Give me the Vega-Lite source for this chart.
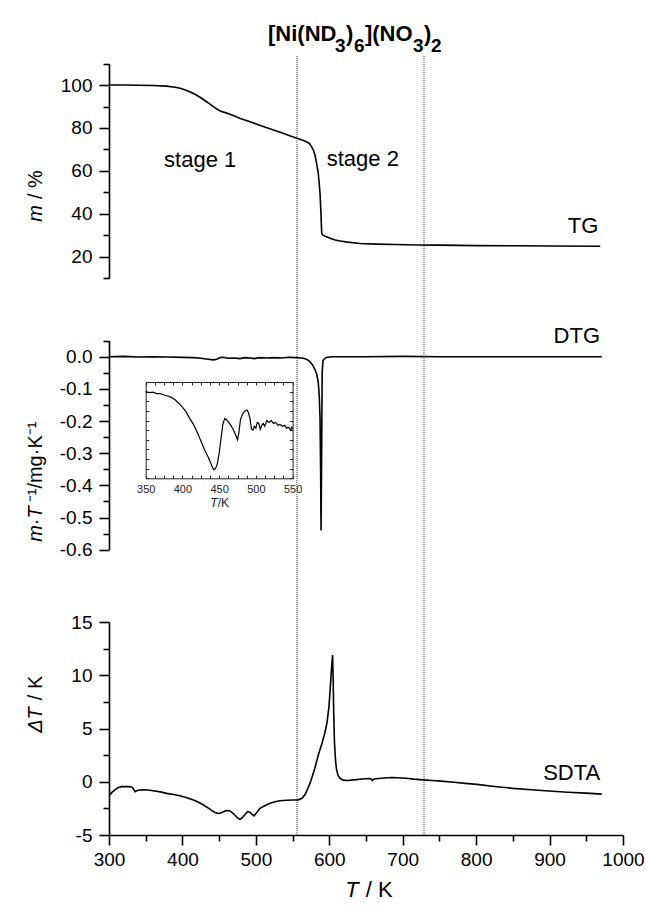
{
  "$schema": "https://vega.github.io/schema/vega-lite/v6.json",
  "width": 514,
  "height": 779,
  "autosize": "none",
  "padding": {"left": 109, "top": 56, "right": 23, "bottom": 74},
  "background": "white",
  "config": {
    "view": {"stroke": null},
    "axis": {
      "labelFont": "Liberation Sans",
      "labelFontSize": 19,
      "labelColor": "black",
      "domainColor": "black",
      "tickColor": "black",
      "domainWidth": 1.6,
      "tickWidth": 1.6,
      "grid": false,
      "labelFlush": false,
      "labelOverlap": false,
      "labelBound": false
    },
    "text": {"font": "Liberation Sans", "color": "black"}
  },
  "datasets": {
    "tg": [
      {"T": 300, "v": 100}, {"T": 320, "v": 100}, {"T": 340, "v": 99.9}, {"T": 360, "v": 99.8}, {"T": 378, "v": 99.5},
      {"T": 390, "v": 99.0}, {"T": 397, "v": 98.5}, {"T": 405, "v": 97.6}, {"T": 410, "v": 96.9}, {"T": 417, "v": 95.7},
      {"T": 424, "v": 94.3}, {"T": 431, "v": 92.7}, {"T": 437.5, "v": 91.1}, {"T": 443, "v": 89.7}, {"T": 449, "v": 88.4},
      {"T": 455, "v": 87.5}, {"T": 462, "v": 86.8}, {"T": 470, "v": 85.7}, {"T": 478, "v": 84.5}, {"T": 487, "v": 83.5},
      {"T": 496, "v": 82.4}, {"T": 505, "v": 81.3}, {"T": 515, "v": 80.1}, {"T": 526, "v": 78.8}, {"T": 537, "v": 77.5},
      {"T": 547, "v": 76.3}, {"T": 556, "v": 75.2}, {"T": 563, "v": 74.4}, {"T": 569, "v": 73.6}, {"T": 573, "v": 72.7},
      {"T": 576, "v": 71.2}, {"T": 578.5, "v": 69.5}, {"T": 580.5, "v": 67.4}, {"T": 582.5, "v": 64}, {"T": 584, "v": 61},
      {"T": 585, "v": 58.9}, {"T": 586.3, "v": 54}, {"T": 587.4, "v": 49.5}, {"T": 588, "v": 45}, {"T": 588.7, "v": 40.2},
      {"T": 589.2, "v": 35}, {"T": 589.7, "v": 30.9}, {"T": 591, "v": 30.2}, {"T": 594, "v": 29.6}, {"T": 597, "v": 29.2},
      {"T": 602, "v": 28.5}, {"T": 608, "v": 27.8}, {"T": 615, "v": 27.3}, {"T": 625, "v": 26.8}, {"T": 642, "v": 26.2},
      {"T": 665, "v": 25.9}, {"T": 690, "v": 25.7}, {"T": 720, "v": 25.5}, {"T": 750, "v": 25.4}, {"T": 800, "v": 25.2},
      {"T": 850, "v": 25.1}, {"T": 900, "v": 25.0}, {"T": 969, "v": 24.9}
    ],
    "dtg": [
      {"T": 300, "v": 0}, {"T": 320, "v": 0.001}, {"T": 340, "v": -0.001}, {"T": 360, "v": 0}, {"T": 380, "v": -0.001},
      {"T": 400, "v": -0.002}, {"T": 415, "v": -0.003}, {"T": 425, "v": -0.005}, {"T": 435, "v": -0.008}, {"T": 442, "v": -0.01},
      {"T": 447, "v": -0.008}, {"T": 451, "v": -0.003}, {"T": 456, "v": -0.002}, {"T": 462, "v": -0.005}, {"T": 470, "v": -0.004},
      {"T": 478, "v": -0.006}, {"T": 485, "v": -0.003}, {"T": 492, "v": -0.004}, {"T": 498, "v": -0.006}, {"T": 505, "v": -0.003},
      {"T": 515, "v": -0.004}, {"T": 525, "v": -0.003}, {"T": 535, "v": -0.004}, {"T": 545, "v": -0.002}, {"T": 556, "v": -0.003},
      {"T": 563, "v": -0.004}, {"T": 569, "v": -0.008}, {"T": 573, "v": -0.014}, {"T": 577, "v": -0.025}, {"T": 580.5, "v": -0.04},
      {"T": 583, "v": -0.055}, {"T": 585, "v": -0.08}, {"T": 586.3, "v": -0.12}, {"T": 587.4, "v": -0.19}, {"T": 588.2, "v": -0.35},
      {"T": 588.8, "v": -0.54}, {"T": 589.6, "v": -0.3}, {"T": 590.3, "v": -0.05}, {"T": 591.5, "v": -0.012}, {"T": 594, "v": -0.005},
      {"T": 597, "v": -0.002}, {"T": 605, "v": 0}, {"T": 650, "v": 0}, {"T": 700, "v": 0.001}, {"T": 750, "v": 0},
      {"T": 800, "v": 0}, {"T": 850, "v": 0}, {"T": 900, "v": 0}, {"T": 971, "v": 0}
    ],
    "sdta": [
      {"T": 300, "v": -1.34}, {"T": 304, "v": -1.0}, {"T": 308, "v": -0.77}, {"T": 312, "v": -0.55}, {"T": 317, "v": -0.46},
      {"T": 323, "v": -0.44}, {"T": 328.6, "v": -0.46}, {"T": 332, "v": -0.55}, {"T": 334, "v": -0.75}, {"T": 335.4, "v": -0.93},
      {"T": 337.7, "v": -0.84}, {"T": 341, "v": -0.78}, {"T": 346.7, "v": -0.75}, {"T": 353, "v": -0.78}, {"T": 360, "v": -0.84},
      {"T": 370, "v": -0.95}, {"T": 378.6, "v": -1.09}, {"T": 388, "v": -1.2}, {"T": 396.8, "v": -1.31}, {"T": 406, "v": -1.5},
      {"T": 415, "v": -1.71}, {"T": 422, "v": -1.93}, {"T": 428.6, "v": -2.18}, {"T": 436, "v": -2.5}, {"T": 441, "v": -2.75},
      {"T": 444.5, "v": -2.9}, {"T": 448, "v": -2.97}, {"T": 451, "v": -2.96}, {"T": 455, "v": -2.85}, {"T": 460, "v": -2.7},
      {"T": 464, "v": -2.72}, {"T": 467, "v": -2.85}, {"T": 471, "v": -3.1}, {"T": 475, "v": -3.4}, {"T": 478.4, "v": -3.52},
      {"T": 482, "v": -3.35}, {"T": 486, "v": -3.0}, {"T": 489, "v": -2.8}, {"T": 492, "v": -2.85}, {"T": 494.5, "v": -3.05},
      {"T": 497.5, "v": -3.2}, {"T": 501, "v": -2.9}, {"T": 505.6, "v": -2.49}, {"T": 512, "v": -2.25}, {"T": 519.3, "v": -2.02},
      {"T": 526, "v": -1.88}, {"T": 533, "v": -1.78}, {"T": 542, "v": -1.74}, {"T": 550, "v": -1.72}, {"T": 557.8, "v": -1.7},
      {"T": 563, "v": -1.55}, {"T": 567, "v": -1.2}, {"T": 571, "v": -0.6}, {"T": 575, "v": 0.1}, {"T": 580, "v": 1.2},
      {"T": 585, "v": 2.5}, {"T": 590, "v": 3.6}, {"T": 594, "v": 4.6}, {"T": 597, "v": 5.6}, {"T": 599.5, "v": 7.0},
      {"T": 601.5, "v": 9.0}, {"T": 603, "v": 10.6}, {"T": 604.5, "v": 11.9}, {"T": 605.3, "v": 9.5}, {"T": 606, "v": 6.5},
      {"T": 607, "v": 3.8}, {"T": 608.5, "v": 2.0}, {"T": 610, "v": 1.1}, {"T": 612, "v": 0.6}, {"T": 615, "v": 0.3},
      {"T": 619, "v": 0.15}, {"T": 625, "v": 0.12}, {"T": 634, "v": 0.18}, {"T": 645, "v": 0.26}, {"T": 653.7, "v": 0.3},
      {"T": 657, "v": 0.25}, {"T": 658.6, "v": 0.12}, {"T": 660, "v": 0.22}, {"T": 663.5, "v": 0.28}, {"T": 675, "v": 0.35},
      {"T": 685, "v": 0.4}, {"T": 693, "v": 0.38}, {"T": 705, "v": 0.33}, {"T": 715, "v": 0.25}, {"T": 727, "v": 0.18},
      {"T": 740, "v": 0.12}, {"T": 752, "v": 0.06}, {"T": 770, "v": -0.05}, {"T": 785, "v": -0.15}, {"T": 801, "v": -0.25},
      {"T": 825, "v": -0.44}, {"T": 850, "v": -0.62}, {"T": 875, "v": -0.75}, {"T": 899, "v": -0.87}, {"T": 925, "v": -0.98},
      {"T": 950, "v": -1.07}, {"T": 971, "v": -1.16}
    ],
    "inset": [
      {"T": 350, "v": -1.0}, {"T": 355, "v": -1.1}, {"T": 360, "v": -1.05}, {"T": 365, "v": -1.2}, {"T": 370, "v": -1.2},
      {"T": 375, "v": -1.35}, {"T": 380, "v": -1.45}, {"T": 385, "v": -1.6}, {"T": 390, "v": -1.85}, {"T": 395, "v": -2.2},
      {"T": 400, "v": -2.6}, {"T": 405, "v": -3.1}, {"T": 410, "v": -3.8}, {"T": 415, "v": -4.4}, {"T": 420, "v": -5.2},
      {"T": 425, "v": -6.1}, {"T": 430, "v": -7.0}, {"T": 435, "v": -7.8}, {"T": 440, "v": -8.7}, {"T": 442.5, "v": -9.1},
      {"T": 445, "v": -9.0}, {"T": 447.5, "v": -8.5}, {"T": 450, "v": -7.4}, {"T": 452.5, "v": -5.9}, {"T": 455, "v": -4.4},
      {"T": 457.5, "v": -3.8}, {"T": 460, "v": -3.9}, {"T": 463, "v": -4.2}, {"T": 466, "v": -4.5}, {"T": 469, "v": -4.9},
      {"T": 472, "v": -5.4}, {"T": 475, "v": -6.0}, {"T": 477, "v": -5.2}, {"T": 479, "v": -3.9}, {"T": 482, "v": -3.3},
      {"T": 485, "v": -3.0}, {"T": 488, "v": -2.9}, {"T": 490, "v": -3.2}, {"T": 492, "v": -3.8}, {"T": 494, "v": -4.9},
      {"T": 496, "v": -5.0}, {"T": 498, "v": -4.6}, {"T": 500, "v": -4.8}, {"T": 502, "v": -4.2}, {"T": 504, "v": -4.3},
      {"T": 506, "v": -4.9}, {"T": 508, "v": -4.5}, {"T": 510, "v": -4.3}, {"T": 512, "v": -4.6}, {"T": 515, "v": -4.0},
      {"T": 518, "v": -4.2}, {"T": 521, "v": -4.0}, {"T": 524, "v": -4.3}, {"T": 527, "v": -4.2}, {"T": 530, "v": -4.5},
      {"T": 533, "v": -4.4}, {"T": 536, "v": -4.6}, {"T": 539, "v": -4.5}, {"T": 542, "v": -4.8}, {"T": 545, "v": -4.7},
      {"T": 547, "v": -5.0}, {"T": 549, "v": -4.7}, {"T": 550, "v": -4.9}
    ],
    "rules": [{"T": 556}, {"T": 729}],
    "stages": [{"T": 375, "v": 61.6, "label": "stage 1"}, {"T": 596.5, "v": 62.3, "label": "stage 2"}],
    "tgLabel": [{"T": 966.4, "v": 30.9, "label": "TG"}],
    "formulaMain": [
      {"T": 516.5, "v": 120.4, "label": "[Ni(ND"}, {"T": 622.8, "v": 120.4, "label": ")"},
      {"T": 648.6, "v": 120.4, "label": "](NO"}, {"T": 729.0, "v": 120.4, "label": ")"}
    ],
    "formulaSub": [
      {"T": 607.8, "v": 115.6, "label": "3"}, {"T": 633.6, "v": 115.6, "label": "6"},
      {"T": 714.0, "v": 115.6, "label": "3"}, {"T": 738.5, "v": 115.6, "label": "2"}
    ],
    "tgTitleA": [{"T": 208.8, "v": 44.1, "label": "m"}],
    "tgTitleB": [{"T": 208.8, "v": 44.1, "label": "/ %"}],
    "dtgLabel": [{"T": 968.7, "v": 0.042, "label": "DTG"}],
    "dtgTitleA": [{"T": 208.8, "v": -0.465, "label": "m·T"}],
    "dtgTitleB": [{"T": 208.8, "v": -0.465, "label": "⁻¹/mg·K⁻¹"}],
    "sdtaLabel": [{"T": 969, "v": 0.2, "label": "SDTA"}],
    "sdtaTitleA": [{"T": 208.8, "v": 7.0, "label": "ΔT"}],
    "sdtaTitleB": [{"T": 208.8, "v": 7.0, "label": "/ K"}],
    "xTitleA": [{"T": 640, "v": -10.8, "label": "T"}],
    "xTitleB": [{"T": 640, "v": -10.8, "label": "/ K"}],
    "insetTitleA": [{"T": 448, "v": -12.97, "label": "T"}],
    "insetTitleB": [{"T": 448, "v": -12.97, "label": "/K"}]
  },
  "resolve": {
    "scale": {"x": "independent", "y": "independent"},
    "axis": {"x": "independent", "y": "independent"}
  },
  "layer": [
    {
      "data": {"name": "rules"},
      "mark": {"type": "rule", "color": "#444", "strokeWidth": 1, "strokeDash": [1, 1]},
      "encoding": {
        "x": {"field": "T", "type": "quantitative", "scale": {"domain": [300, 1000], "nice": false, "zero": false}, "axis": null}
      }
    },
    {
      "encoding": {
        "x": {"field": "T", "type": "quantitative", "scale": {"domain": [300, 1000], "nice": false, "zero": false}, "axis": null},
        "y": {
          "field": "v", "type": "quantitative",
          "scale": {"domain": [10, 110], "range": [222.2, 7.6], "nice": false, "zero": false},
          "axis": {
            "orient": "left", "title": null,
            "values": [10, 20, 30, 40, 50, 60, 70, 80, 90, 100, 110],
            "labelExpr": "datum.value % 20 === 0 ? datum.label : ''",
            "tickSize": {"condition": {"test": "datum.value % 20 === 0", "value": 10}, "value": 6},
            "labelPadding": 7
          }
        }
      },
      "layer": [
        {"data": {"name": "tg"}, "mark": {"type": "line", "color": "black", "strokeWidth": 1.6}},
        {"data": {"name": "stages"}, "mark": {"type": "text", "align": "left", "baseline": "alphabetic", "fontSize": 22}, "encoding": {"text": {"field": "label"}}},
        {"data": {"name": "tgLabel"}, "mark": {"type": "text", "align": "right", "baseline": "alphabetic", "fontSize": 22}, "encoding": {"text": {"field": "label"}}},
        {"data": {"name": "formulaMain"}, "mark": {"type": "text", "align": "left", "baseline": "alphabetic", "fontSize": 22, "fontWeight": "bold"}, "encoding": {"text": {"field": "label"}}},
        {"data": {"name": "formulaSub"}, "mark": {"type": "text", "align": "left", "baseline": "alphabetic", "fontSize": 19, "fontWeight": "bold"}, "encoding": {"text": {"field": "label"}}},
        {"data": {"name": "tgTitleA"}, "mark": {"type": "text", "angle": 270, "align": "right", "baseline": "alphabetic", "fontSize": 20, "fontStyle": "italic"}, "encoding": {"text": {"field": "label"}}},
        {"data": {"name": "tgTitleB"}, "mark": {"type": "text", "angle": 270, "align": "left", "baseline": "alphabetic", "fontSize": 20, "dx": 6}, "encoding": {"text": {"field": "label"}}}
      ]
    },
    {
      "encoding": {
        "x": {"field": "T", "type": "quantitative", "scale": {"domain": [300, 1000], "nice": false, "zero": false}, "axis": null},
        "y": {
          "field": "v", "type": "quantitative",
          "scale": {"domain": [-0.6, 0.05], "range": [493.7, 284.6], "nice": false, "zero": false},
          "axis": {
            "orient": "left", "title": null,
            "values": [0.05, 0, -0.05, -0.1, -0.15, -0.2, -0.25, -0.3, -0.35, -0.4, -0.45, -0.5, -0.55, -0.6],
            "labelExpr": "abs(round(datum.value * 20)) % 2 === 0 ? (datum.value < -0.001 ? '-' : '') + format(abs(datum.value), '.1f') : ''",
            "tickSize": {"condition": {"test": "abs(round(datum.value * 20)) % 2 === 0", "value": 10}, "value": 6},
            "labelPadding": 7
          }
        }
      },
      "layer": [
        {"data": {"name": "dtg"}, "mark": {"type": "line", "color": "black", "strokeWidth": 1.6}},
        {"data": {"name": "dtgLabel"}, "mark": {"type": "text", "align": "right", "baseline": "alphabetic", "fontSize": 22}, "encoding": {"text": {"field": "label"}}},
        {"data": {"name": "dtgTitleA"}, "mark": {"type": "text", "angle": 270, "align": "right", "baseline": "alphabetic", "fontSize": 20, "fontStyle": "italic"}, "encoding": {"text": {"field": "label"}}},
        {"data": {"name": "dtgTitleB"}, "mark": {"type": "text", "angle": 270, "align": "left", "baseline": "alphabetic", "fontSize": 20, "dx": 4}, "encoding": {"text": {"field": "label"}}}
      ]
    },
    {
      "encoding": {
        "x": {
          "field": "T", "type": "quantitative", "scale": {"domain": [300, 1000], "nice": false, "zero": false},
          "axis": {
            "orient": "bottom", "title": null, "format": "d",
            "values": [300, 350, 400, 450, 500, 550, 600, 650, 700, 750, 800, 850, 900, 950, 1000],
            "labelExpr": "datum.value % 100 === 0 ? datum.label : ''",
            "tickSize": {"condition": {"test": "datum.value % 100 === 0", "value": 10}, "value": 6},
            "labelPadding": 5
          }
        },
        "y": {
          "field": "v", "type": "quantitative",
          "scale": {"domain": [-5, 15], "range": [779, 566], "nice": false, "zero": false},
          "axis": {
            "orient": "left", "title": null,
            "values": [-5, -2.5, 0, 2.5, 5, 7.5, 10, 12.5, 15],
            "labelExpr": "datum.value % 5 === 0 ? (datum.value < 0 ? '-' : '') + format(abs(datum.value), 'd') : ''",
            "tickSize": {"condition": {"test": "datum.value % 5 === 0", "value": 10}, "value": 6},
            "labelPadding": 7
          }
        }
      },
      "layer": [
        {"data": {"name": "sdta"}, "mark": {"type": "line", "color": "black", "strokeWidth": 1.6}},
        {"data": {"name": "sdtaLabel"}, "mark": {"type": "text", "align": "right", "baseline": "alphabetic", "fontSize": 22}, "encoding": {"text": {"field": "label"}}},
        {"data": {"name": "sdtaTitleA"}, "mark": {"type": "text", "angle": 270, "align": "right", "baseline": "alphabetic", "fontSize": 20, "fontStyle": "italic"}, "encoding": {"text": {"field": "label"}}},
        {"data": {"name": "sdtaTitleB"}, "mark": {"type": "text", "angle": 270, "align": "left", "baseline": "alphabetic", "fontSize": 20, "dx": 7}, "encoding": {"text": {"field": "label"}}},
        {"data": {"name": "xTitleA"}, "mark": {"type": "text", "align": "right", "baseline": "alphabetic", "fontSize": 22, "fontStyle": "italic"}, "encoding": {"text": {"field": "label"}}},
        {"data": {"name": "xTitleB"}, "mark": {"type": "text", "align": "left", "baseline": "alphabetic", "fontSize": 22, "dx": 7}, "encoding": {"text": {"field": "label"}}}
      ]
    },
    {
      "resolve": {"axis": {"x": "independent", "y": "independent"}},
      "layer": [
        {
          "data": {"name": "inset"},
          "mark": {"type": "line", "color": "black", "strokeWidth": 1.2},
          "encoding": {
            "x": {
              "field": "T", "type": "quantitative",
              "scale": {"domain": [350, 550], "range": [36.7, 183.6], "nice": false, "zero": false},
              "axis": {
                "orient": "bottom", "offset": -356.7, "title": null, "format": "d",
                "values": [350, 362.5, 375, 387.5, 400, 412.5, 425, 437.5, 450, 462.5, 475, 487.5, 500, 512.5, 525, 537.5, 550],
                "labelExpr": "datum.value % 50 === 0 ? datum.label : ''",
                "tickSize": -3, "labelPadding": 8, "labelFontSize": 11, "labelColor": "#222",
                "domainWidth": 1, "tickWidth": 1, "domainColor": "#222", "tickColor": "#222"
              }
            },
            "y": {
              "field": "v", "type": "quantitative",
              "scale": {"domain": [-10, 0], "range": [422.3, 326], "nice": false, "zero": false},
              "axis": {
                "orient": "left", "offset": -36.7, "title": null, "labels": false,
                "values": [-10, -9, -8, -7, -6, -5, -4, -3, -2, -1, 0],
                "tickSize": -3, "domainWidth": 1, "tickWidth": 1, "domainColor": "#222", "tickColor": "#222"
              }
            }
          }
        },
        {
          "data": {"name": "insetTitleA"},
          "mark": {"type": "text", "align": "right", "baseline": "alphabetic", "fontSize": 12, "fontStyle": "italic", "color": "#222"},
          "encoding": {
            "text": {"field": "label"},
            "x": {
              "field": "T", "type": "quantitative",
              "scale": {"domain": [350, 550], "range": [36.7, 183.6], "nice": false, "zero": false},
              "axis": {
                "orient": "top", "offset": -326, "title": null, "labels": false,
                "values": [350, 362.5, 375, 387.5, 400, 412.5, 425, 437.5, 450, 462.5, 475, 487.5, 500, 512.5, 525, 537.5, 550],
                "tickSize": -3, "domainWidth": 1, "tickWidth": 1, "domainColor": "#222", "tickColor": "#222"
              }
            },
            "y": {
              "field": "v", "type": "quantitative",
              "scale": {"domain": [-10, 0], "range": [422.3, 326], "nice": false, "zero": false},
              "axis": {
                "orient": "right", "offset": -330.4, "title": null, "labels": false,
                "values": [-10, -9, -8, -7, -6, -5, -4, -3, -2, -1, 0],
                "tickSize": -3, "domainWidth": 1, "tickWidth": 1, "domainColor": "#222", "tickColor": "#222"
              }
            }
          }
        },
        {
          "data": {"name": "insetTitleB"},
          "mark": {"type": "text", "align": "left", "baseline": "alphabetic", "fontSize": 12, "color": "#222"},
          "encoding": {
            "text": {"field": "label"},
            "x": {"field": "T", "type": "quantitative", "scale": {"domain": [350, 550], "range": [36.7, 183.6], "nice": false, "zero": false}, "axis": null},
            "y": {"field": "v", "type": "quantitative", "scale": {"domain": [-10, 0], "range": [422.3, 326], "nice": false, "zero": false}, "axis": null}
          }
        }
      ]
    }
  ]
}
